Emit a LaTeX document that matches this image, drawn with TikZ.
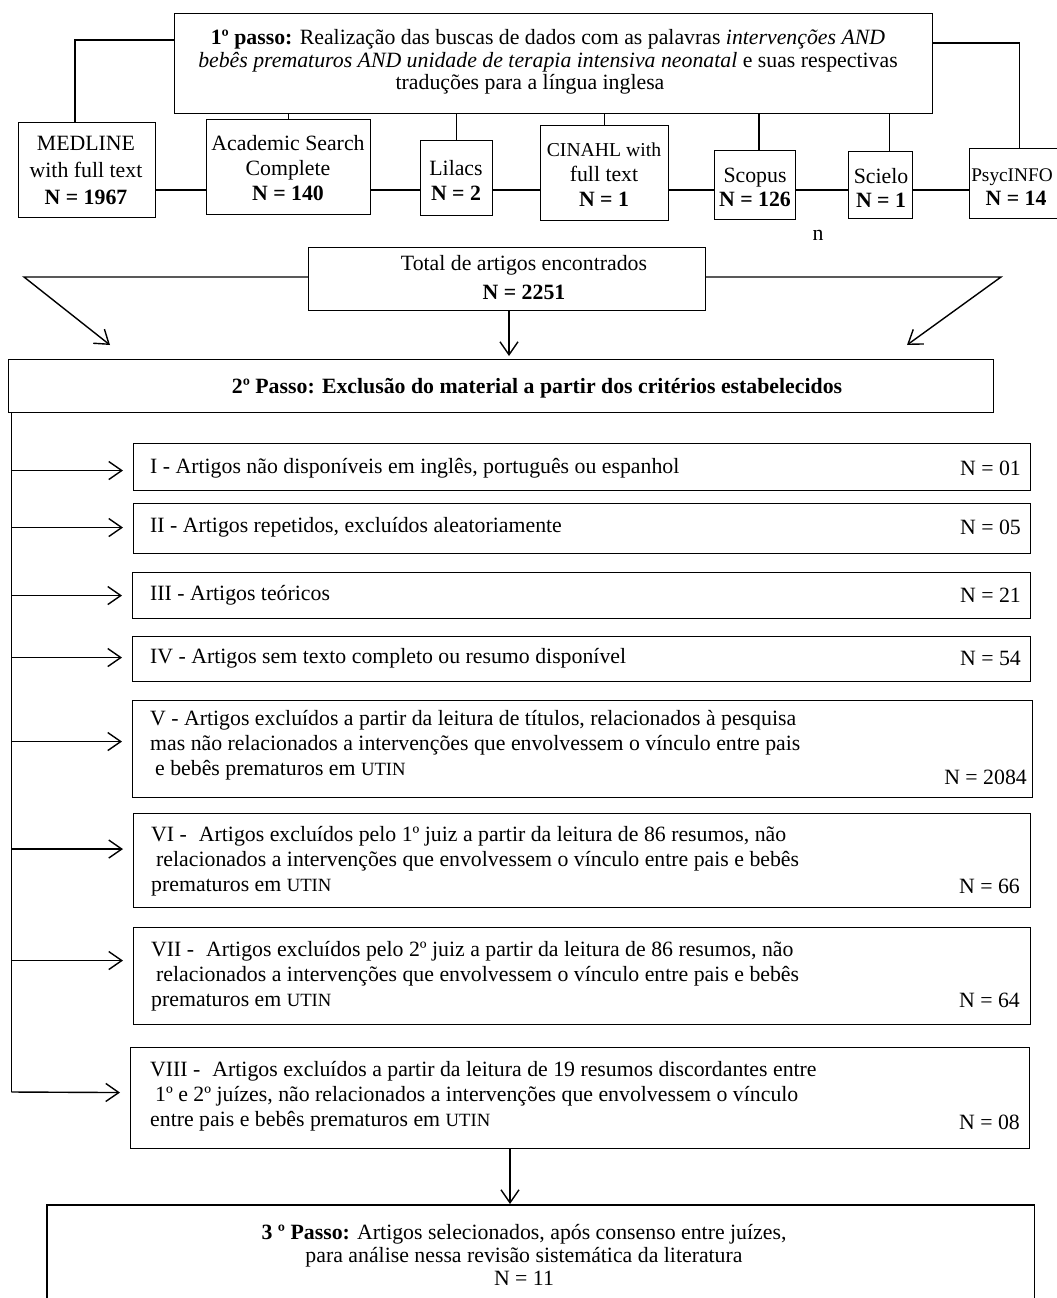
\documentclass[tikz,border=0pt]{standalone}
\usepackage{fontspec}
\setmainfont{Liberation Serif}
\usetikzlibrary{arrows.meta,calc}
\newcommand{\smUT}{{\fontsize{18.7}{25}\selectfont UTIN}}
\begin{document}
\begin{tikzpicture}[x=1pt,y=-1pt,
  box/.style={draw, line width=1.1pt, inner sep=0pt, anchor=north west},
  conn/.style={line width=1.6pt},
  arr/.style={line width=1.4pt, -{Straight Barb[length=13pt,width=18pt]}},
  txt/.style={inner sep=0pt, align=center},
  ltxt/.style={inner sep=0pt, align=left, anchor=west},
  ntxt/.style={inner sep=0pt, anchor=east},
  font=\fontsize{21.8}{25}\selectfont]
\useasboundingbox (0,0) rectangle (1057,1298);
\clip (0,0) rectangle (1057,1298);

% ---- boxes ----
\node[box, minimum width=758pt, minimum height=100pt] (topB) at (174,13) {};
\node[box, minimum width=137pt, minimum height=95pt] (medB) at (18,122) {};
\node[box, minimum width=164pt, minimum height=95pt] (acB) at (206,119) {};
\node[box, minimum width=72pt, minimum height=75pt] (liB) at (420,140) {};
\node[box, minimum width=128pt, minimum height=95pt] (ciB) at (540,125) {};
\node[box, minimum width=81pt, minimum height=69pt] (spB) at (714,150) {};
\node[box, minimum width=64pt, minimum height=67pt] (scB) at (848,151) {};
\node[box, minimum width=100pt, minimum height=70pt] (psB) at (969,148) {};
\node[box, minimum width=397pt, minimum height=63pt] (totB) at (308,247) {};
\node[box, minimum width=985pt, minimum height=53pt] (p2B) at (8,359) {};
\node[box, minimum width=897pt, minimum height=47pt] (bI) at (133,443) {};
\node[box, minimum width=897pt, minimum height=50pt] (bII) at (133,503) {};
\node[box, minimum width=898pt, minimum height=46pt] (bIII) at (132,572) {};
\node[box, minimum width=898pt, minimum height=45pt] (bIV) at (132,636) {};
\node[box, minimum width=900pt, minimum height=97pt] (bV) at (132,700) {};
\node[box, minimum width=897pt, minimum height=94pt] (bVI) at (133,813) {};
\node[box, minimum width=897pt, minimum height=97pt] (bVII) at (133,927) {};
\node[box, minimum width=899pt, minimum height=101pt] (bVIII) at (130,1047) {};
\node[box, draw=none, minimum width=986pt, minimum height=110pt] (b3) at (47,1205) {};
\draw[line width=1.1pt] (b3.south west) -- (b3.north west) -- (b3.north east) -- (b3.south east);

% ---- texts ----
\node[txt, font=\fontsize{21.8}{22.5}\selectfont] (topT) at (548,62)
 {\textbf{1º passo:} Realização das buscas de dados com as palavras \textit{intervenções AND}\\
  \textit{bebês prematuros AND unidade de terapia intensiva neonatal} e suas respectivas\\
  traduções para a língua inglesa\hspace*{36pt}};
\node[txt, font=\fontsize{21.8}{27}\selectfont] (medT) at (86,170) {MEDLINE\\with full text\\\textbf{N = 1967}};
\node[txt] (acT) at (288,168) {Academic Search\\Complete\\\textbf{N = 140}};
\node[txt] (liT) at (456,180.5) {Lilacs\\\textbf{N = 2}};
\node[txt] (ciT) at (604,175) {{\fontsize{19.7}{25}\selectfont CINAHL with}\\full text\\\textbf{N = 1}};
\node[txt, font=\fontsize{21.8}{24}\selectfont] (spT) at (755,187) {Scopus\\\textbf{N = 126}};
\node[txt, font=\fontsize{21.8}{24}\selectfont] (scT) at (881,187.5) {Scielo\\\textbf{N = 1}};
\node[txt, font=\fontsize{21.8}{24}\selectfont] (psT) at (1012,187.5) {{\fontsize{19.3}{24}\selectfont PsycINFO}\\\hspace*{8pt}\textbf{N = 14}};
\node[inner sep=0pt, anchor=base] (nT) at (818,240) {n};
\node[txt, font=\fontsize{21.8}{29}\selectfont] (totT) at (524,278) {Total de artigos encontrados\\\textbf{N = 2251}};
\node[txt] (p2T) at (537,388) {\textbf{2º Passo: Exclusão do material a partir dos critérios estabelecidos}};

\node[ltxt] (tI) at (150,468) {I - Artigos não disponíveis em inglês, português ou espanhol};
\node[ntxt] (nI) at (1021,468) {N = 01};
\node[ltxt] (tII) at (150,527) {II - Artigos repetidos, excluídos aleatoriamente};
\node[ntxt] (nII) at (1021,527) {N = 05};
\node[ltxt] (tIII) at (150,595) {III - Artigos teóricos};
\node[ntxt] (nIII) at (1021,595) {N = 21};
\node[ltxt] (tIV) at (150,658) {IV - Artigos sem texto completo ou resumo disponível};
\node[ntxt] (nIV) at (1021,658) {N = 54};
\node[ltxt] (tV) at (150,745) {V - Artigos excluídos a partir da leitura de títulos, relacionados à pesquisa\\
  mas não relacionados a intervenções que envolvessem o vínculo entre pais\\
  \hspace*{5pt}e bebês prematuros em \smUT};
\node[ntxt] (nV) at (1027,777) {N = 2084};
\node[ltxt] (tVI) at (151,861) {VI -\hspace{0.55em}Artigos excluídos pelo 1º juiz a partir da leitura de 86 resumos, não\\
  \hspace*{5pt}relacionados a intervenções que envolvessem o vínculo entre pais e bebês\\
  prematuros em \smUT};
\node[ntxt] (nVI) at (1020,886) {N = 66};
\node[ltxt] (tVII) at (151,976) {VII -\hspace{0.55em}Artigos excluídos pelo 2º juiz a partir da leitura de 86 resumos, não\\
  \hspace*{5pt}relacionados a intervenções que envolvessem o vínculo entre pais e bebês\\
  prematuros em \smUT};
\node[ntxt] (nVII) at (1020,1000) {N = 64};
\node[ltxt] (tVIII) at (150,1096) {VIII -\hspace{0.55em}Artigos excluídos a partir da leitura de 19 resumos discordantes entre\\
  \hspace*{5pt}1º e 2º juízes, não relacionados a intervenções que envolvessem o vínculo\\
  entre pais e bebês prematuros em \smUT};
\node[ntxt] (nVIII) at (1020,1122) {N = 08};
\node[txt, font=\fontsize{21.8}{23}\selectfont] (t3) at (524,1255)
 {\textbf{3 º Passo:} Artigos selecionados, após consenso entre juízes,\\
  para análise nessa revisão sistemática da literatura\\
  N = 11};

% ---- connectors, top ----
\coordinate (chain) at (0,190);
\draw[conn] (medB.east |- chain) -- (acB.west |- chain);
\draw[conn] (acB.east |- chain) -- (liB.west |- chain);
\draw[conn] (liB.east |- chain) -- (ciB.west |- chain);
\draw[conn] (ciB.east |- chain) -- (spB.west |- chain);
\draw[conn] (spB.east |- chain) -- (scB.west |- chain);
\draw[conn] (scB.east |- chain) -- (psB.west |- chain);

\coordinate (medX) at ([xshift=-12pt]medB.north);
\coordinate (tlc) at ($(topB.north west)+(0,27)$);
\draw[conn] (medX) |- (tlc);
\draw[conn] (acB.north) -- (acB.north |- topB.south);
\draw[conn] (liB.north) -- (liB.north |- topB.south);
\draw[conn] (ciB.north) -- (ciB.north |- topB.south);
\coordinate (spX) at ([xshift=4pt]spB.north);
\draw[conn] (spX) -- (spX |- topB.south);
\coordinate (scX) at ([xshift=9pt]scB.north);
\draw[conn] (scX) -- (scX |- topB.south);
\coordinate (trc) at ($(topB.north east)+(0,30)$);
\draw[conn] (trc) -| (psB.north);

% ---- total ----
\coordinate (lt) at (24,277);
\coordinate (rt) at (1001,277);
\coordinate (ltip) at (110,345);
\coordinate (rtip) at (907,345);
\draw[arr] (totB.west |- lt) -- (lt) -- (ltip);
\draw[arr] (totB.east |- rt) -- (rt) -- (rtip);
\coordinate (d2) at (509,0);
\draw[arr, shorten >=3pt] (d2 |- totB.south) -- (d2 |- p2B.north);

% ---- exclusion arrows ----
\coordinate (vb) at (11.5,1092);
\draw[conn] (vb |- p2B.south) -- (vb);
\draw[arr] ($(vb |- bI.west)+(0,3.5)$) -- ($(bI.west)+(-10,3.5)$);
\draw[arr] ($(vb |- bII.west)+(0,-1)$) -- ($(bII.west)+(-10,-1)$);
\draw[arr] (vb |- bIII.west) -- ($(bIII.west)+(-10,0)$);
\draw[arr] ($(vb |- bIV.west)+(0,-1.5)$) -- ($(bIV.west)+(-10,-1.5)$);
\draw[arr] ($(vb |- bV.west)+(0,-7.5)$) -- ($(bV.west)+(-10,-7.5)$);
\draw[arr] ($(vb |- bVI.west)+(0,-11.5)$) -- ($(bVI.west)+(-10,-11.5)$);
\draw[arr] ($(vb |- bVII.west)+(0,-15.5)$) -- ($(bVII.west)+(-10,-15.5)$);
\draw[arr] (vb) -- ($(bVIII.west)+(-10,-5.5)$);

\coordinate (d3) at (510,0);
\draw[arr, shorten >=1pt] (d3 |- bVIII.south) -- (d3 |- b3.north);
\end{tikzpicture}
\end{document}
